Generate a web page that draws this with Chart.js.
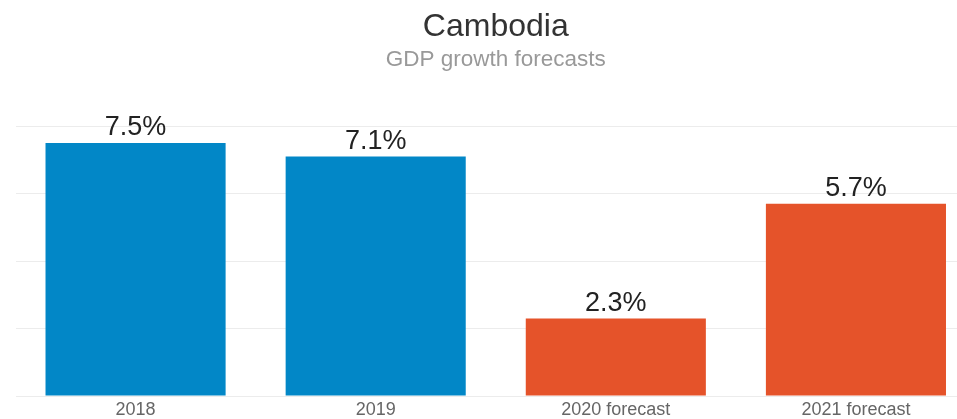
<!DOCTYPE html>
<html>
<head>
<meta charset="utf-8">
<script src="https://cdn.jsdelivr.net/npm/chart.js@4.4.1/dist/chart.umd.min.js"></script>
<style>
  html, body { margin: 0; padding: 0; background: #fff; overflow: hidden; width: 957px; height: 419px; }
  #wrap { width: 980px; height: 419px; }
</style>
</head>
<body>
<div id="wrap"><canvas id="c" width="980" height="419"></canvas></div>
<script>
const categories = ["2018", "2019", "2020 forecast", "2021 forecast"];
const growth = [7.5, 7.1, 2.3, 5.7];
const barColors = ["#0287C7", "#0287C7", "#E5532A", "#E5532A"];
const titleText = "Cambodia";
const subtitleText = "GDP growth forecasts";

const FONT = "'Liberation Sans', Arial, Helvetica, sans-serif";

const valueLabels = {
  id: 'valueLabels',
  afterDatasetsDraw(chart) {
    const ctx = chart.ctx;
    const meta = chart.getDatasetMeta(0);
    ctx.save();
    ctx.font = "27px " + FONT;
    ctx.fillStyle = "#222";
    ctx.textAlign = "center";
    ctx.textBaseline = "alphabetic";
    meta.data.forEach((bar, i) => {
      ctx.fillText(growth[i].toFixed(1) + "%", bar.x, bar.y - 7.5);
    });
    ctx.restore();
  }
};

new Chart(document.getElementById('c'), {
  type: 'bar',
  data: {
    labels: categories,
    datasets: [{
      data: growth,
      backgroundColor: barColors,
      borderWidth: 0,
      categoryPercentage: 1,
      barPercentage: 0.75
    }]
  },
  options: {
    responsive: false,
    animation: false,
    layout: { padding: { left: 15.5, right: 4, top: 8, bottom: -4.8 } },
    plugins: {
      legend: { display: false },
      tooltip: { enabled: false },
      title: {
        display: true,
        text: titleText,
        color: "#333",
        font: { family: FONT, size: 32, weight: 'normal', lineHeight: 1.2 },
        padding: { top: 0, bottom: 0 }
      },
      subtitle: {
        display: true,
        text: subtitleText,
        color: "#999",
        font: { family: FONT, size: 22.5, weight: 'normal', lineHeight: 1.2 },
        padding: { top: 0, bottom: 52.6 }
      }
    },
    scales: {
      x: {
        grid: { display: false, drawTicks: false },
        border: { display: false },
        ticks: {
          color: "#666",
          padding: 4,
          font: { family: FONT, size: 18, lineHeight: 1.1 }
        }
      },
      y: {
        min: 0,
        max: 8,
        ticks: { display: false, stepSize: 2 },
        grid: { color: "#ececec", lineWidth: 1, drawTicks: false },
        border: { display: false }
      }
    }
  },
  plugins: [valueLabels]
});
</script>
</body>
</html>
